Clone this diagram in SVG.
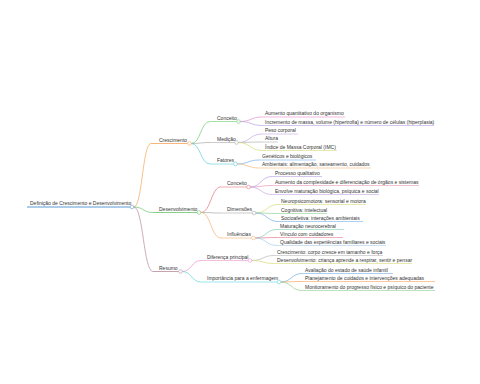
<svg xmlns="http://www.w3.org/2000/svg" width="480" height="384" viewBox="0 0 480 384">
<style>
.t{font-family:"Liberation Sans",Arial,sans-serif;font-size:5px;fill:#333}
.c{fill:none;stroke-width:0.7}
.u{stroke-width:0.6}
.u1{stroke-width:0.8}
.d{fill:#fff;stroke-width:0.6}
</style>
<rect width="480" height="384" fill="#fff"/>
<g id="connectors">
<path class="c" stroke="#f5a35a" d="M133.8 207 C142.4 207 142.4 143.5 151 143.5"/>
<path class="c" stroke="#6ac46a" d="M133.8 207 C143.4 207 143.4 212.5 153 212.5"/>
<path class="c" stroke="#b88a9a" d="M133.8 207 C143.4 207 143.4 271.5 153 271.5"/>
<path class="c" stroke="#6cc96c" d="M191.3 143.5 C200.6 143.5 200.6 121.5 210 121.5"/>
<path class="c" stroke="#a8a8a8" d="M191.3 143.5 C200.6 143.5 200.6 142.5 210 142.5"/>
<path class="c" stroke="#5ccfd8" d="M191.3 143.5 C200.6 143.5 200.6 164 210 164"/>
<path class="c" stroke="#e58fc8" d="M240.3 121.5 C251 121.5 251 117 262 117"/>
<path class="c" stroke="#b9a0e3" d="M240.3 121.5 C251 121.5 251 125.5 262 125.5"/>
<path class="c" stroke="#c4a6e8" d="M238.3 142.5 C250 142.5 250 134 262 134"/>
<path class="c" stroke="#b0b0b0" d="M238.3 142.5 C250 142.5 250 142 262 142"/>
<path class="c" stroke="#d5dc74" d="M238.3 142.5 C250 142.5 250 150.5 262 150.5"/>
<path class="c" stroke="#74aee6" d="M237.3 164 C248 164 248 160 259 160"/>
<path class="c" stroke="#f5b877" d="M237.3 164 C248 164 248 168 259 168"/>
<path class="c" stroke="#e5737f" d="M200.8 212.5 C211 212.5 211 187 221 187"/>
<path class="c" stroke="#a8a8a8" d="M200.8 212.5 C211 212.5 211 213 221 213"/>
<path class="c" stroke="#f5b070" d="M200.8 212.5 C211 212.5 211 238 221 238"/>
<path class="c" stroke="#b9a0e3" d="M250.3 187 C261 187 261 176.5 272 176.5"/>
<path class="c" stroke="#e59ab5" d="M250.3 187 C261 187 261 185.5 272 185.5"/>
<path class="c" stroke="#c4a6e8" d="M250.3 187 C261 187 261 194.5 272 194.5"/>
<path class="c" stroke="#d5dc74" d="M255.8 213 C267 213 267 204.5 278 204.5"/>
<path class="c" stroke="#8fd08f" d="M255.8 213 C267 213 267 213.5 278 213.5"/>
<path class="c" stroke="#74aee6" d="M255.8 213 C267 213 267 221.5 278 221.5"/>
<path class="c" stroke="#7fd0a8" d="M255.3 238 C266 238 266 229.5 277 229.5"/>
<path class="c" stroke="#e57890" d="M255.3 238 C266 238 266 237.5 277 237.5"/>
<path class="c" stroke="#a8cce8" d="M255.3 238 C266 238 266 245.5 277 245.5"/>
<path class="c" stroke="#ec94c8" d="M182.3 271.5 C191.6 271.5 191.6 260.5 201 260.5"/>
<path class="c" stroke="#5fd3e0" d="M182.3 271.5 C191.6 271.5 191.6 282 201 282"/>
<path class="c" stroke="#b8b8b8" d="M251.8 260.5 C263 260.5 263 255.5 274 255.5"/>
<path class="c" stroke="#d5dc74" d="M251.8 260.5 C263 260.5 263 263.5 274 263.5"/>
<path class="c" stroke="#74aee6" d="M280.8 282 C291.4 282 291.4 273.5 302 273.5"/>
<path class="c" stroke="#f5a35a" d="M280.8 282 C291.4 282 291.4 281.5 302 281.5"/>
<path class="c" stroke="#8fd08f" d="M280.8 282 C291.4 282 291.4 290.5 302 290.5"/>
</g>
<g id="root">
<line x1="27" y1="207" x2="130.2" y2="207" stroke="#5b9bd5" stroke-width="1"/>
<text class="t" x="30" y="205.2">Definição de Crescimento e Desenvolvimento</text>
<circle class="d" cx="132" cy="207" r="1.8" stroke="#5b9bd5"/>
</g>
<g id="crescimento">
<line class="u1" x1="151" y1="143.5" x2="187.7" y2="143.5" stroke="#f5a35a"/>
<text class="t" x="159" y="141.7">Crescimento</text>
<circle class="d" cx="189.5" cy="143.5" r="1.8" stroke="#f5a35a"/>
</g>
<g id="cresc-conceito">
<line class="u" x1="210" y1="121.5" x2="236.7" y2="121.5" stroke="#6cc96c"/>
<text class="t" x="217" y="119.7">Conceito</text>
<circle class="d" cx="238.5" cy="121.5" r="1.8" stroke="#6cc96c"/>
</g>
<g id="cresc-conceito-1">
<line class="u" x1="262" y1="117" x2="345" y2="117" stroke="#e58fc8"/>
<text class="t" x="265" y="115.2">Aumento quantitativo do organismo</text>
</g>
<g id="cresc-conceito-2">
<line class="u" x1="262" y1="125.5" x2="434" y2="125.5" stroke="#b9a0e3"/>
<text class="t" x="265" y="123.7">Incremento de massa, volume (hipertrofia) e número de células (hiperplasia)</text>
</g>
<g id="medicao">
<line class="u" x1="210" y1="142.5" x2="234.7" y2="142.5" stroke="#a8a8a8"/>
<text class="t" x="217" y="140.7">Medição</text>
<circle class="d" cx="236.5" cy="142.5" r="1.8" stroke="#a8a8a8"/>
</g>
<g id="medicao-1">
<line class="u" x1="262" y1="134" x2="298" y2="134" stroke="#c4a6e8"/>
<text class="t" x="265" y="132.2">Peso corporal</text>
</g>
<g id="medicao-2">
<line class="u" x1="262" y1="142" x2="278" y2="142" stroke="#b0b0b0"/>
<text class="t" x="265" y="140.2">Altura</text>
</g>
<g id="medicao-3">
<line class="u" x1="262" y1="150.5" x2="337" y2="150.5" stroke="#d5dc74"/>
<text class="t" x="265" y="148.7">Índice de Massa Corporal (IMC)</text>
</g>
<g id="fatores">
<line class="u" x1="210" y1="164" x2="233.7" y2="164" stroke="#5ccfd8"/>
<text class="t" x="217" y="162.2">Fatores</text>
<circle class="d" cx="235.5" cy="164" r="1.8" stroke="#5ccfd8"/>
</g>
<g id="fatores-1">
<line class="u" x1="259" y1="160" x2="316" y2="160" stroke="#74aee6"/>
<text class="t" x="262" y="158.2">Genéticos e biológicos</text>
</g>
<g id="fatores-2">
<line class="u" x1="259" y1="168" x2="371" y2="168" stroke="#f5b877"/>
<text class="t" x="262" y="166.2">Ambientais: alimentação, saneamento, cuidados</text>
</g>
<g id="desenvolvimento">
<line class="u1" x1="153" y1="212.5" x2="197.2" y2="212.5" stroke="#6ac46a"/>
<text class="t" x="159" y="210.7">Desenvolvimento</text>
<circle class="d" cx="199" cy="212.5" r="1.8" stroke="#6ac46a"/>
</g>
<g id="desenv-conceito">
<line class="u" x1="221" y1="187" x2="246.7" y2="187" stroke="#e5737f"/>
<text class="t" x="227" y="185.2">Conceito</text>
<circle class="d" cx="248.5" cy="187" r="1.8" stroke="#e5737f"/>
</g>
<g id="desenv-conceito-1">
<line class="u" x1="272" y1="176.5" x2="322" y2="176.5" stroke="#b9a0e3"/>
<text class="t" x="275" y="174.7">Processo qualitativo</text>
</g>
<g id="desenv-conceito-2">
<line class="u" x1="272" y1="185.5" x2="419" y2="185.5" stroke="#e59ab5"/>
<text class="t" x="275" y="183.7">Aumento da complexidade e diferenciação de órgãos e sistemas</text>
</g>
<g id="desenv-conceito-3">
<line class="u" x1="272" y1="194.5" x2="379" y2="194.5" stroke="#c4a6e8"/>
<text class="t" x="275" y="192.7">Envolve maturação biológica, psíquica e social</text>
</g>
<g id="dimensoes">
<line class="u" x1="221" y1="213" x2="252.2" y2="213" stroke="#a8a8a8"/>
<text class="t" x="227" y="211.2">Dimensões</text>
<circle class="d" cx="254" cy="213" r="1.8" stroke="#a8a8a8"/>
</g>
<g id="dimensoes-1">
<line class="u" x1="278" y1="204.5" x2="366" y2="204.5" stroke="#d5dc74"/>
<text class="t" x="281" y="202.7">Neuropsicomotora: sensorial e motora</text>
</g>
<g id="dimensoes-2">
<line class="u" x1="278" y1="213.5" x2="327" y2="213.5" stroke="#8fd08f"/>
<text class="t" x="281" y="211.7">Cognitiva: intelectual</text>
</g>
<g id="dimensoes-3">
<line class="u" x1="278" y1="221.5" x2="363" y2="221.5" stroke="#74aee6"/>
<text class="t" x="281" y="219.7">Socioafetiva: interações ambientais</text>
</g>
<g id="influencias">
<line class="u" x1="221" y1="238" x2="251.7" y2="238" stroke="#f5b070"/>
<text class="t" x="227" y="236.2">Influências</text>
<circle class="d" cx="253.5" cy="238" r="1.8" stroke="#f5b070"/>
</g>
<g id="influencias-1">
<line class="u" x1="277" y1="229.5" x2="344" y2="229.5" stroke="#7fd0a8"/>
<text class="t" x="280" y="227.7">Maturação neurocerebral</text>
</g>
<g id="influencias-2">
<line class="u" x1="277" y1="237.5" x2="343" y2="237.5" stroke="#e57890"/>
<text class="t" x="280" y="235.7">Vínculo com cuidadores</text>
</g>
<g id="influencias-3">
<line class="u" x1="277" y1="245.5" x2="386" y2="245.5" stroke="#a8cce8"/>
<text class="t" x="280" y="243.7">Qualidade das experiências familiares e sociais</text>
</g>
<g id="resumo">
<line class="u1" x1="153" y1="271.5" x2="178.7" y2="271.5" stroke="#b88a9a"/>
<text class="t" x="159" y="269.7">Resumo</text>
<circle class="d" cx="180.5" cy="271.5" r="1.8" stroke="#b88a9a"/>
</g>
<g id="diferenca">
<line class="u" x1="201" y1="260.5" x2="248.2" y2="260.5" stroke="#ec94c8"/>
<text class="t" x="207" y="258.7">Diferença principal</text>
<circle class="d" cx="250" cy="260.5" r="1.8" stroke="#ec94c8"/>
</g>
<g id="diferenca-1">
<line class="u" x1="274" y1="255.5" x2="383" y2="255.5" stroke="#b8b8b8"/>
<text class="t" x="277" y="253.7">Crescimento: corpo cresce em tamanho e força</text>
</g>
<g id="diferenca-2">
<line class="u" x1="274" y1="263.5" x2="412" y2="263.5" stroke="#d5dc74"/>
<text class="t" x="277" y="261.7">Desenvolvimento: criança aprende a respirar, sentir e pensar</text>
</g>
<g id="importancia">
<line class="u" x1="201" y1="282" x2="277.2" y2="282" stroke="#5fd3e0"/>
<text class="t" x="207" y="280.2">Importância para a enfermagem</text>
<circle class="d" cx="279" cy="282" r="1.8" stroke="#5fd3e0"/>
</g>
<g id="importancia-1">
<line class="u" x1="302" y1="273.5" x2="393" y2="273.5" stroke="#74aee6"/>
<text class="t" x="305" y="271.7">Avaliação do estado de saúde infantil</text>
</g>
<g id="importancia-2">
<line class="u" x1="302" y1="281.5" x2="435" y2="281.5" stroke="#f5a35a"/>
<text class="t" x="305" y="279.7">Planejamento de cuidados e intervenções adequadas</text>
</g>
<g id="importancia-3">
<line class="u" x1="302" y1="290.5" x2="435" y2="290.5" stroke="#8fd08f"/>
<text class="t" x="305" y="288.7">Monitoramento do progresso físico e psíquico do paciente</text>
</g>
</svg>
